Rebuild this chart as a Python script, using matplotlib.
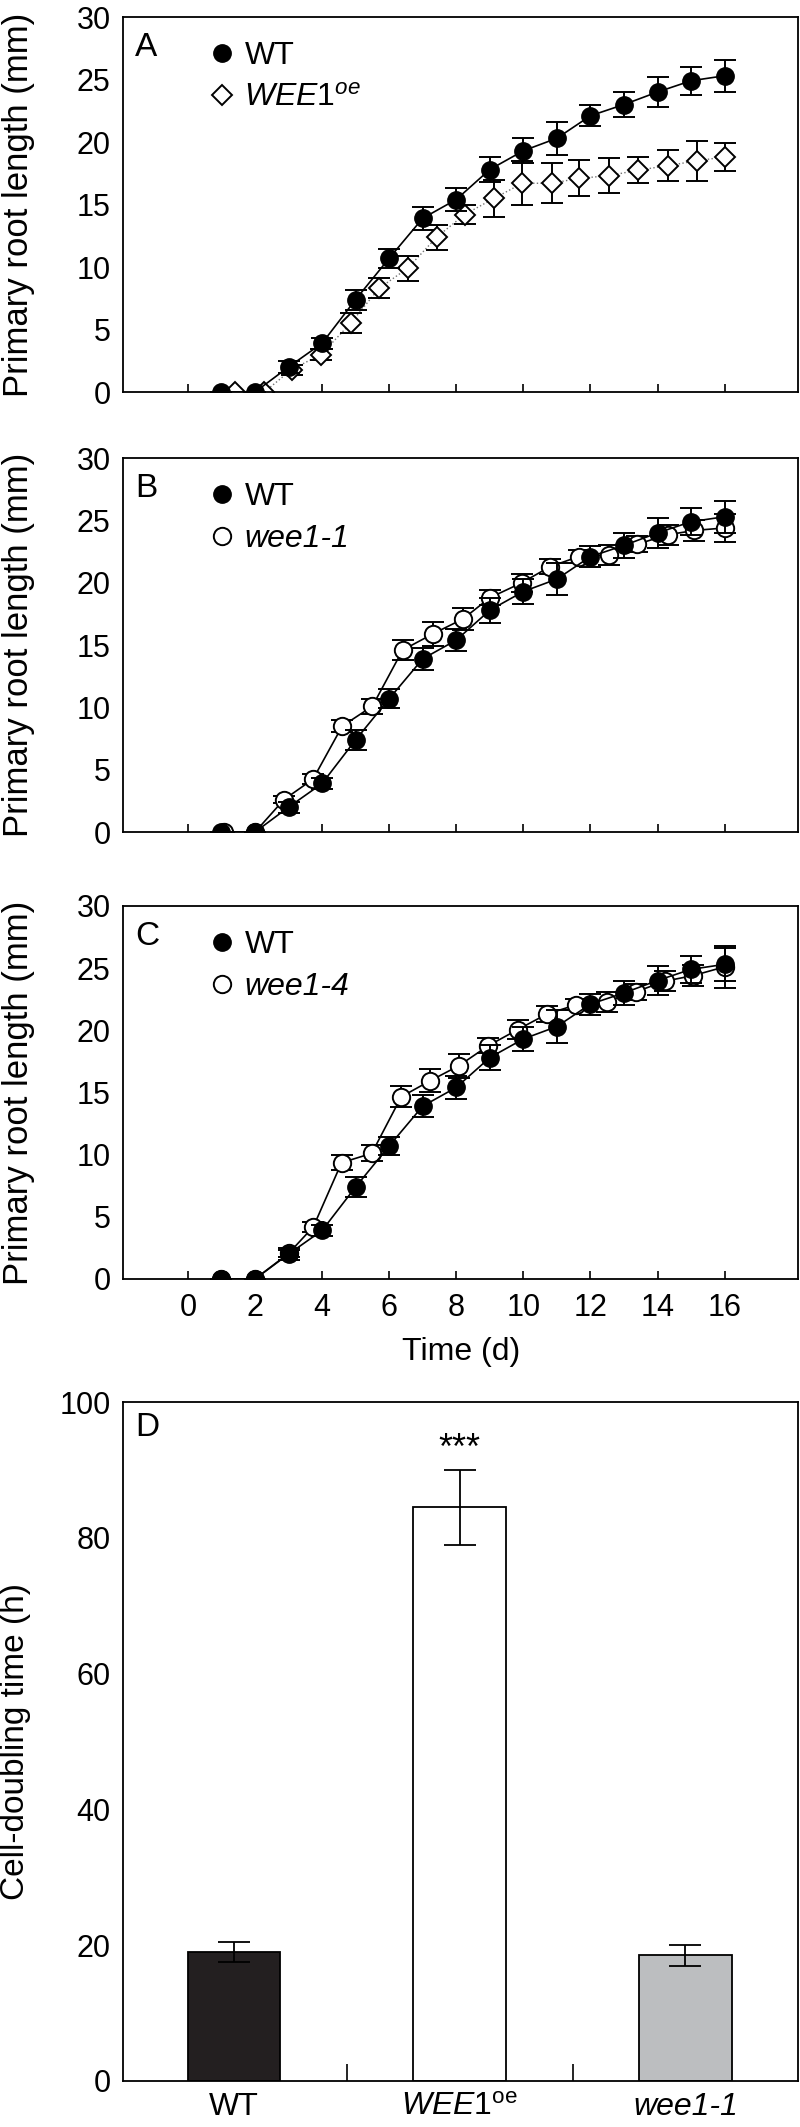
import matplotlib
matplotlib.use("Agg")
import matplotlib.pyplot as plt
from matplotlib.lines import Line2D

plt.rcParams['font.family'] = ['Liberation Sans', 'DejaVu Sans']
plt.rcParams['mathtext.fontset'] = 'custom'
plt.rcParams['mathtext.rm'] = 'Liberation Sans'
plt.rcParams['mathtext.it'] = 'Liberation Sans:italic'

# --- data ---
wt_days = [1, 2, 3, 4, 5, 6, 7, 8, 9, 10, 11, 12, 13, 14, 15, 16]
wt_len = [0, 0, 2.0, 3.9, 7.4, 10.7, 13.9, 15.4, 17.8, 19.3, 20.3, 22.1, 23.0, 24.0, 24.9, 25.3]
wt_err = [0, 0, 0.45, 0.45, 0.8, 0.75, 0.9, 0.9, 1.0, 1.0, 1.3, 0.85, 1.0, 1.2, 1.1, 1.3]

oe_days = [1.41, 2.28, 3.09, 3.97, 4.85, 5.70, 6.55, 7.42, 8.25, 9.13, 9.97, 10.84, 11.67, 12.54, 13.42, 14.30, 15.17, 16.0]
oe_len = [0, 0, 1.8, 3.0, 5.5, 8.3, 9.9, 12.4, 14.2, 15.5, 16.7, 16.7, 17.1, 17.3, 17.75, 18.1, 18.5, 18.8]
oe_err = [0, 0, 0.4, 0.45, 0.8, 0.8, 1.0, 1.0, 0.75, 1.5, 1.75, 1.6, 1.45, 1.4, 1.05, 1.25, 1.6, 1.15]

w1_days = [1.07, 2.0, 2.86, 3.73, 4.6, 5.5, 6.4, 7.3, 8.2, 9.0, 9.95, 10.8, 11.65, 12.55, 13.4, 14.3, 15.1, 16.0]
w1_len = [0, 0, 2.6, 4.25, 8.5, 10.1, 14.6, 15.9, 17.1, 18.8, 20.0, 21.3, 22.1, 22.25, 23.1, 23.85, 24.2, 24.4]
w1_err = [0, 0, 0.3, 0.4, 0.5, 0.6, 0.8, 0.95, 0.9, 0.6, 0.7, 0.6, 0.5, 0.8, 0.65, 0.8, 0.85, 1.1]

w4_days = [1.0, 2.0, 3.0, 3.74, 4.58, 5.48, 6.36, 7.23, 8.08, 8.95, 9.83, 10.7, 11.58, 12.48, 13.36, 14.23, 15.07, 16.0]
w4_len = [0, 0, 2.05, 4.2, 9.35, 10.1, 14.65, 15.95, 17.15, 18.75, 20.05, 21.3, 22.05, 22.3, 23.1, 23.95, 24.4, 25.1]
w4_err = [0, 0, 0.3, 0.4, 0.6, 0.65, 0.85, 0.9, 0.95, 0.6, 0.75, 0.65, 0.45, 0.8, 0.65, 0.8, 0.85, 1.7]

genotypes = ['WT', r'$\mathit{WEE1}^{\mathrm{oe}}$', 'wee1-1']
doubling = [19.0, 84.5, 18.5]
doubling_err = [1.5, 5.5, 1.5]
bar_colors = ['#231f20', 'white', '#bcbec0']

fig = plt.figure(figsize=(8, 21.27), dpi=100)

panels = [
    ('A', oe_days, oe_len, oe_err, r'$\mathit{WEE1}^{\mathit{oe}}$', 'D', 0.8157, 0.1763),
    ('B', w1_days, w1_len, w1_err, 'wee1-1', 'o', 0.6088, 0.1758),
    ('C', w4_days, w4_len, w4_err, 'wee1-4', 'o', 0.3987, 0.1754),
]

eb = dict(ecolor='black', elinewidth=1.4, capsize=8, capthick=1.4)

for letter, mx, my, me, mlabel, mk, bottom, height in panels:
    ax = fig.add_axes([0.154, bottom, 0.844, height])
    if mk == 'D':
        ax.errorbar(mx, my, yerr=me, fmt='D', ms=10, mfc='white', mec='black', mew=1.4,
                    zorder=2, **eb)
        ax.plot(mx, my, ls=':', color='0.45', lw=1.0, zorder=1)
    else:
        ax.errorbar(mx, my, yerr=me, fmt='o-', ms=12.5, mfc='white', mec='black', mew=1.4,
                    color='black', lw=1.2, zorder=2, **eb)
    ax.errorbar(wt_days, wt_len, yerr=wt_err, fmt='o-', ms=12.5, mfc='black', mec='black',
                color='black', lw=1.2, zorder=3, **eb)

    ax.set_xlim(-1.93, 18.2)
    ax.set_ylim(0, 30)
    ax.set_xticks(range(0, 17, 2))
    ax.set_yticks(range(0, 31, 5))
    ax.tick_params(axis='x', direction='in', length=6, width=1.2, labelsize=22, pad=10)
    ax.tick_params(axis='y', length=0, labelsize=22, pad=9)
    if letter != 'C':
        ax.set_xticklabels([])
    else:
        ax.set_xlabel('Time (d)', fontsize=23, labelpad=10)
    ax.set_ylabel('Primary root length (mm)', fontsize=25)
    ax.yaxis.set_label_coords(-0.13, 0.5)
    for s in ax.spines.values():
        s.set_linewidth(1.3)

    ax.text(0.018, 0.96, letter, transform=ax.transAxes, fontsize=24, va='top', ha='left')
    handles = [Line2D([], [], ls='none', marker='o', ms=12.5, mfc='black', mec='black'),
               Line2D([], [], ls='none', marker=mk, ms=12.5 if mk == 'o' else 10,
                      mfc='white', mec='black', mew=1.4)]
    leg = ax.legend(handles, ['WT', mlabel], loc='upper left', bbox_to_anchor=(0.111, 0.97),
                    frameon=False, fontsize=23, handlelength=0.7, handletextpad=0.35,
                    labelspacing=0.38, borderaxespad=0)
    if mk == 'o':
        leg.get_texts()[1].set_fontstyle('italic')

# --- panel D ---
axd = fig.add_axes([0.154, 0.02163, 0.844, 0.3192])
xpos = range(len(genotypes))
axd.bar(xpos, doubling, width=0.41, color=bar_colors, edgecolor='black', linewidth=1.3, zorder=2)
axd.errorbar(xpos, doubling, yerr=doubling_err, fmt='none', ecolor='black', elinewidth=1.3,
             capsize=11.5, capthick=1.3, zorder=3)
axd.text(1, 93, '***', ha='center', va='center', fontsize=26)
axd.set_xlim(-0.49, 2.5)
axd.set_ylim(0, 100)
axd.set_yticks(range(0, 101, 20))
axd.set_xticks([0.5, 1.5])
axd.set_xticklabels([])
axd.tick_params(axis='x', direction='in', length=12, width=1.2)
axd.tick_params(axis='y', length=0, labelsize=22, pad=9)
for i, g in enumerate(genotypes):
    axd.text(i, -1.6, g, ha='center', va='top', fontsize=23,
             style='italic' if i == 2 else 'normal')
axd.set_ylabel('Cell-doubling time (h)', fontsize=24)
axd.yaxis.set_label_coords(-0.136, 0.5)
axd.text(0.018, 0.985, 'D', transform=axd.transAxes, fontsize=24, va='top', ha='left')
for s in axd.spines.values():
    s.set_linewidth(1.3)

fig.savefig('out.png', dpi=100)
